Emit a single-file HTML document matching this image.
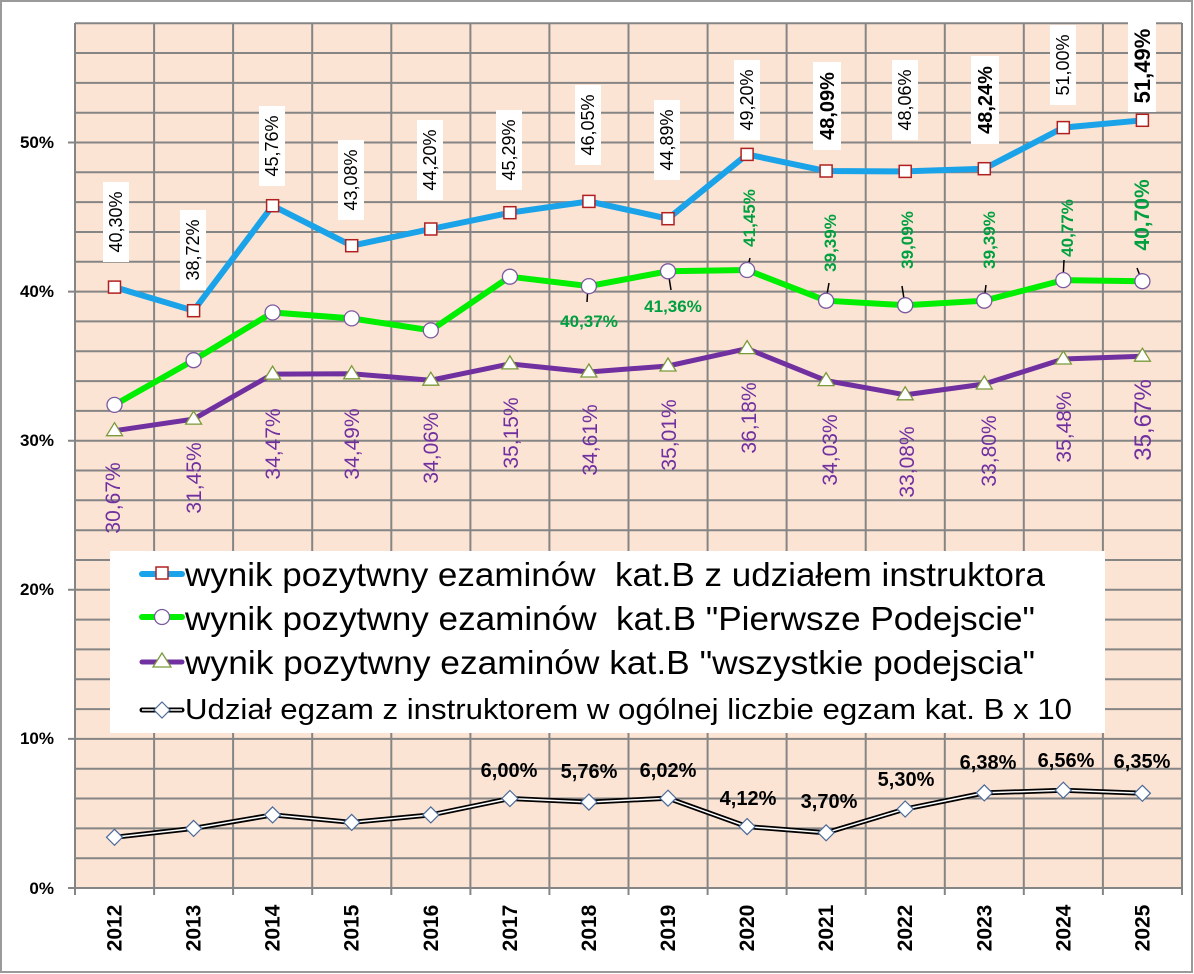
<!DOCTYPE html>
<html><head><meta charset="utf-8"><style>
html,body{margin:0;padding:0;background:#fff;}
svg{display:block;font-family:"Liberation Sans",Arial,sans-serif;}
</style></head><body>
<svg width="1194" height="974" viewBox="0 0 1194 974" xmlns="http://www.w3.org/2000/svg">
<rect x="1" y="1" width="1191" height="971" fill="#fff" stroke="#9a9a9a" stroke-width="2"/>
<rect x="75" y="23" width="1107" height="865" fill="#fce4d4"/>
<g stroke="#858585" stroke-width="2">
<line x1="75" y1="858.2" x2="1182" y2="858.2"/><line x1="75" y1="828.4" x2="1182" y2="828.4"/><line x1="75" y1="798.5" x2="1182" y2="798.5"/><line x1="75" y1="768.7" x2="1182" y2="768.7"/><line x1="68" y1="738.9" x2="1182" y2="738.9"/><line x1="75" y1="709.1" x2="1182" y2="709.1"/><line x1="75" y1="679.3" x2="1182" y2="679.3"/><line x1="75" y1="649.4" x2="1182" y2="649.4"/><line x1="75" y1="619.6" x2="1182" y2="619.6"/><line x1="68" y1="589.8" x2="1182" y2="589.8"/><line x1="75" y1="560" x2="1182" y2="560"/><line x1="75" y1="530.2" x2="1182" y2="530.2"/><line x1="75" y1="500.3" x2="1182" y2="500.3"/><line x1="75" y1="470.5" x2="1182" y2="470.5"/><line x1="68" y1="440.7" x2="1182" y2="440.7"/><line x1="75" y1="410.9" x2="1182" y2="410.9"/><line x1="75" y1="381.1" x2="1182" y2="381.1"/><line x1="75" y1="351.2" x2="1182" y2="351.2"/><line x1="75" y1="321.4" x2="1182" y2="321.4"/><line x1="68" y1="291.6" x2="1182" y2="291.6"/><line x1="75" y1="261.8" x2="1182" y2="261.8"/><line x1="75" y1="232" x2="1182" y2="232"/><line x1="75" y1="202.1" x2="1182" y2="202.1"/><line x1="75" y1="172.3" x2="1182" y2="172.3"/><line x1="68" y1="142.5" x2="1182" y2="142.5"/><line x1="75" y1="112.7" x2="1182" y2="112.7"/><line x1="75" y1="82.9" x2="1182" y2="82.9"/><line x1="75" y1="53" x2="1182" y2="53"/><line x1="75" y1="23.2" x2="1182" y2="23.2"/>
<line x1="75" y1="23" x2="75" y2="895"/><line x1="154.1" y1="23" x2="154.1" y2="895"/><line x1="233.1" y1="23" x2="233.1" y2="895"/><line x1="312.2" y1="23" x2="312.2" y2="895"/><line x1="391.3" y1="23" x2="391.3" y2="895"/><line x1="470.4" y1="23" x2="470.4" y2="895"/><line x1="549.4" y1="23" x2="549.4" y2="895"/><line x1="628.5" y1="23" x2="628.5" y2="895"/><line x1="707.6" y1="23" x2="707.6" y2="895"/><line x1="786.6" y1="23" x2="786.6" y2="895"/><line x1="865.7" y1="23" x2="865.7" y2="895"/><line x1="944.8" y1="23" x2="944.8" y2="895"/><line x1="1023.8" y1="23" x2="1023.8" y2="895"/><line x1="1102.9" y1="23" x2="1102.9" y2="895"/><line x1="1182" y1="23" x2="1182" y2="895"/>
<line x1="68" y1="888" x2="1182" y2="888"/>
</g>
<g font-weight="bold" font-size="17" text-anchor="end" fill="#000">
<text x="54" y="148">50%</text><text x="54" y="297">40%</text><text x="54" y="446">30%</text><text x="54" y="595">20%</text><text x="54" y="744">10%</text><text x="54" y="894">0%</text>
</g>
<g font-weight="bold" font-size="21" text-anchor="middle" fill="#000">
<text transform="translate(121.5,928) rotate(-90)">2012</text><text transform="translate(200.6,928) rotate(-90)">2013</text><text transform="translate(279.6,928) rotate(-90)">2014</text><text transform="translate(358.7,928) rotate(-90)">2015</text><text transform="translate(437.8,928) rotate(-90)">2016</text><text transform="translate(516.9,928) rotate(-90)">2017</text><text transform="translate(595.9,928) rotate(-90)">2018</text><text transform="translate(675,928) rotate(-90)">2019</text><text transform="translate(754.1,928) rotate(-90)">2020</text><text transform="translate(833.1,928) rotate(-90)">2021</text><text transform="translate(912.2,928) rotate(-90)">2022</text><text transform="translate(991.3,928) rotate(-90)">2023</text><text transform="translate(1070.3,928) rotate(-90)">2024</text><text transform="translate(1149.4,928) rotate(-90)">2025</text>
</g>
<!-- diamond series -->
<polyline fill="none" stroke="#000" stroke-width="5" points="114.5,837.3 193.6,828.4 272.6,814.9 351.7,822.4 430.8,814.9 509.9,798.5 588.9,802.1 668,798.2 747.1,826.6 826.1,832.8 905.2,809 984.3,792.9 1063.3,790.2 1142.4,793.3"/>
<polyline fill="none" stroke="#fff" stroke-width="1.5" points="114.5,837.3 193.6,828.4 272.6,814.9 351.7,822.4 430.8,814.9 509.9,798.5 588.9,802.1 668,798.2 747.1,826.6 826.1,832.8 905.2,809 984.3,792.9 1063.3,790.2 1142.4,793.3"/>
<g fill="#fff" stroke="#4a6a9a" stroke-width="1.2">
<path d="M114.5,829.3l8,8l-8,8l-8,-8z"/><path d="M193.6,820.4l8,8l-8,8l-8,-8z"/><path d="M272.6,806.9l8,8l-8,8l-8,-8z"/><path d="M351.7,814.4l8,8l-8,8l-8,-8z"/><path d="M430.8,806.9l8,8l-8,8l-8,-8z"/><path d="M509.9,790.5l8,8l-8,8l-8,-8z"/><path d="M588.9,794.1l8,8l-8,8l-8,-8z"/><path d="M668,790.2l8,8l-8,8l-8,-8z"/><path d="M747.1,818.6l8,8l-8,8l-8,-8z"/><path d="M826.1,824.8l8,8l-8,8l-8,-8z"/><path d="M905.2,801l8,8l-8,8l-8,-8z"/><path d="M984.3,784.9l8,8l-8,8l-8,-8z"/><path d="M1063.3,782.2l8,8l-8,8l-8,-8z"/><path d="M1142.4,785.3l8,8l-8,8l-8,-8z"/>
</g>
<g font-weight="bold" font-size="20" text-anchor="middle" fill="#000">
<text x="509" y="777">6,00%</text><text x="589" y="778">5,76%</text><text x="668" y="777">6,02%</text><text x="748" y="805">4,12%</text><text x="829" y="808">3,70%</text><text x="906" y="786">5,30%</text><text x="988" y="769">6,38%</text><text x="1066" y="767">6,56%</text><text x="1142" y="768">6,35%</text>
</g>
<!-- purple -->
<polyline fill="none" stroke="#7030a0" stroke-width="5" points="114.5,430.7 193.6,419.1 272.6,374.1 351.7,373.8 430.8,380.2 509.9,363.9 588.9,372 668,366 747.1,348.6 826.1,380.6 905.2,394.8 984.3,384 1063.3,359 1142.4,356.2"/>
<g fill="#fff" stroke="#7a9a3a" stroke-width="1.3">
<path d="M114.5,422.7l8,13h-16z"/><path d="M193.6,411.1l8,13h-16z"/><path d="M272.6,366.1l8,13h-16z"/><path d="M351.7,365.8l8,13h-16z"/><path d="M430.8,372.2l8,13h-16z"/><path d="M509.9,355.9l8,13h-16z"/><path d="M588.9,364l8,13h-16z"/><path d="M668,358l8,13h-16z"/><path d="M747.1,340.6l8,13h-16z"/><path d="M826.1,372.6l8,13h-16z"/><path d="M905.2,386.8l8,13h-16z"/><path d="M984.3,376l8,13h-16z"/><path d="M1063.3,351l8,13h-16z"/><path d="M1142.4,348.2l8,13h-16z"/>
</g>
<g font-size="21" text-anchor="middle" fill="#7030a0">
<text transform="translate(120,498) rotate(-90)">30,67%</text><text transform="translate(201,478) rotate(-90)">31,45%</text><text transform="translate(280,444) rotate(-90)">34,47%</text><text transform="translate(359,444) rotate(-90)">34,49%</text><text transform="translate(438,448) rotate(-90)">34,06%</text><text transform="translate(518,433) rotate(-90)">35,15%</text><text transform="translate(597,440) rotate(-90)">34,61%</text><text transform="translate(676,435) rotate(-90)">35,01%</text><text transform="translate(756,418) rotate(-90)">36,18%</text><text transform="translate(837,450) rotate(-90)">34,03%</text><text transform="translate(914,462) rotate(-90)">33,08%</text><text transform="translate(996,451) rotate(-90)">33,80%</text><text transform="translate(1071,427) rotate(-90)">35,48%</text><text font-size="24" transform="translate(1151,420) rotate(-90)">35,67%</text>
</g>
<!-- green -->
<polyline fill="none" stroke="#00ee00" stroke-width="6" points="114.5,404.9 193.6,360.2 272.6,312.5 351.7,318.4 430.8,330.4 509.9,276.7 588.9,286.1 668,271.3 747.1,270 826.1,300.7 905.2,305.2 984.3,300.7 1063.3,280.1 1142.4,281.2"/>
<g stroke="#000" stroke-width="1.5">
<line x1="588" y1="286" x2="587" y2="302"/><line x1="668" y1="271" x2="671" y2="290"/><line x1="747" y1="270" x2="750" y2="258"/><line x1="826" y1="300" x2="829" y2="283"/><line x1="905" y1="305" x2="902" y2="286"/><line x1="984" y1="300" x2="986" y2="285"/><line x1="1063" y1="280" x2="1064" y2="260"/><line x1="1142" y1="281" x2="1137" y2="268"/>
</g>
<g fill="#fff" stroke="#7a5aa0" stroke-width="1.3">
<circle cx="114.5" cy="404.9" r="7.5"/><circle cx="193.6" cy="360.2" r="7.5"/><circle cx="272.6" cy="312.5" r="7.5"/><circle cx="351.7" cy="318.4" r="7.5"/><circle cx="430.8" cy="330.4" r="7.5"/><circle cx="509.9" cy="276.7" r="7.5"/><circle cx="588.9" cy="286.1" r="7.5"/><circle cx="668" cy="271.3" r="7.5"/><circle cx="747.1" cy="270" r="7.5"/><circle cx="826.1" cy="300.7" r="7.5"/><circle cx="905.2" cy="305.2" r="7.5"/><circle cx="984.3" cy="300.7" r="7.5"/><circle cx="1063.3" cy="280.1" r="7.5"/><circle cx="1142.4" cy="281.2" r="7.5"/>
</g>
<g font-weight="bold" font-size="17" text-anchor="middle" fill="#00a040">
<text x="589" y="327">40,37%</text><text x="673" y="312">41,36%</text>
<text transform="translate(755,218) rotate(-90)">41,45%</text><text transform="translate(836,243) rotate(-90)">39,39%</text><text transform="translate(913,240) rotate(-90)">39,09%</text><text transform="translate(995,240) rotate(-90)">39,39%</text><text transform="translate(1073,228) rotate(-90)">40,77%</text><text font-size="21" transform="translate(1149,215) rotate(-90)">40,70%</text>
</g>
<!-- blue -->
<polyline fill="none" stroke="#1aa3e8" stroke-width="6" points="114.5,287.1 193.6,310.7 272.6,205.7 351.7,245.7 430.8,229 509.9,212.7 588.9,201.4 668,218.7 747.1,154.4 826.1,171 905.2,171.4 984.3,168.7 1063.3,127.6 1142.4,120.3"/>
<g fill="#fff" stroke="#b02020" stroke-width="1.5">
<rect x="108.5" y="281.1" width="12" height="12"/><rect x="187.6" y="304.7" width="12" height="12"/><rect x="266.6" y="199.7" width="12" height="12"/><rect x="345.7" y="239.7" width="12" height="12"/><rect x="424.8" y="223" width="12" height="12"/><rect x="503.9" y="206.7" width="12" height="12"/><rect x="582.9" y="195.4" width="12" height="12"/><rect x="662" y="212.7" width="12" height="12"/><rect x="741.1" y="148.4" width="12" height="12"/><rect x="820.1" y="165" width="12" height="12"/><rect x="899.2" y="165.4" width="12" height="12"/><rect x="978.3" y="162.7" width="12" height="12"/><rect x="1057.3" y="121.6" width="12" height="12"/><rect x="1136.4" y="114.3" width="12" height="12"/>
</g>
<g fill="#fff">
<rect x="103" y="182" width="26" height="80"/><rect x="180" y="210" width="26" height="80"/><rect x="259" y="106" width="26" height="80"/><rect x="338" y="140" width="26" height="80"/><rect x="417" y="120" width="26" height="80"/><rect x="496" y="110" width="26" height="80"/><rect x="575" y="85" width="26" height="80"/><rect x="654" y="100" width="26" height="80"/><rect x="734" y="60" width="26" height="80"/><rect x="813" y="62" width="28" height="88"/><rect x="892" y="60" width="26" height="80"/><rect x="971" y="56" width="28" height="88"/><rect x="1050" y="25" width="26" height="80"/><rect x="1128" y="20" width="28" height="92"/>
</g>
<g font-size="18" text-anchor="middle" fill="#000">
<text transform="translate(122,222) rotate(-90)">40,30%</text><text transform="translate(199,250) rotate(-90)">38,72%</text><text transform="translate(278,146) rotate(-90)">45,76%</text><text transform="translate(357,180) rotate(-90)">43,08%</text><text transform="translate(436,160) rotate(-90)">44,20%</text><text transform="translate(515,150) rotate(-90)">45,29%</text><text transform="translate(594,125) rotate(-90)">46,05%</text><text transform="translate(673,140) rotate(-90)">44,89%</text><text transform="translate(753,100) rotate(-90)">49,20%</text><text font-weight="bold" font-size="20" transform="translate(834,106) rotate(-90)">48,09%</text><text transform="translate(911,100) rotate(-90)">48,06%</text><text font-weight="bold" font-size="20" transform="translate(992,100) rotate(-90)">48,24%</text><text transform="translate(1069,65) rotate(-90)">51,00%</text><text font-weight="bold" font-size="22" transform="translate(1150,66) rotate(-90)">51,49%</text>
</g>
<!-- legend -->
<rect x="110" y="551" width="995" height="182" fill="#fff"/>
<line x1="142" y1="574" x2="182" y2="574" stroke="#1aa3e8" stroke-width="6" stroke-linecap="round"/>
<rect x="156" y="567" width="12" height="12" fill="#fff" stroke="#b02020" stroke-width="1.5"/>
<line x1="142" y1="617" x2="182" y2="617" stroke="#00ee00" stroke-width="6" stroke-linecap="round"/>
<circle cx="162" cy="617" r="7.5" fill="#fff" stroke="#7a5aa0" stroke-width="1.3"/>
<line x1="142" y1="662" x2="182" y2="662" stroke="#7030a0" stroke-width="5" stroke-linecap="round"/>
<path d="M162,653l9,14h-18z" fill="#fff" stroke="#7a9a3a" stroke-width="1.3"/>
<line x1="142" y1="710" x2="182" y2="710" stroke="#000" stroke-width="5" stroke-linecap="round"/>
<line x1="142" y1="710" x2="182" y2="710" stroke="#fff" stroke-width="1.5"/>
<path d="M162,702l8,8l-8,8l-8,-8z" fill="#fff" stroke="#4a6a9a" stroke-width="1.2"/>
<g fill="#000" font-size="33">
<text x="185" y="586" textLength="860" lengthAdjust="spacingAndGlyphs">wynik pozytwny ezaminów&#160; kat.B z udziałem instruktora</text>
<text x="185" y="630" textLength="850" lengthAdjust="spacingAndGlyphs">wynik pozytwny ezaminów&#160; kat.B "Pierwsze Podejscie"</text>
<text x="185" y="674" textLength="850" lengthAdjust="spacingAndGlyphs">wynik pozytwny ezaminów kat.B "wszystkie podejscia"</text>
<text x="185" y="719" font-size="29" textLength="887" lengthAdjust="spacingAndGlyphs">Udział egzam z instruktorem w ogólnej liczbie egzam kat. B x 10</text>
</g>
</svg>
</body></html>
